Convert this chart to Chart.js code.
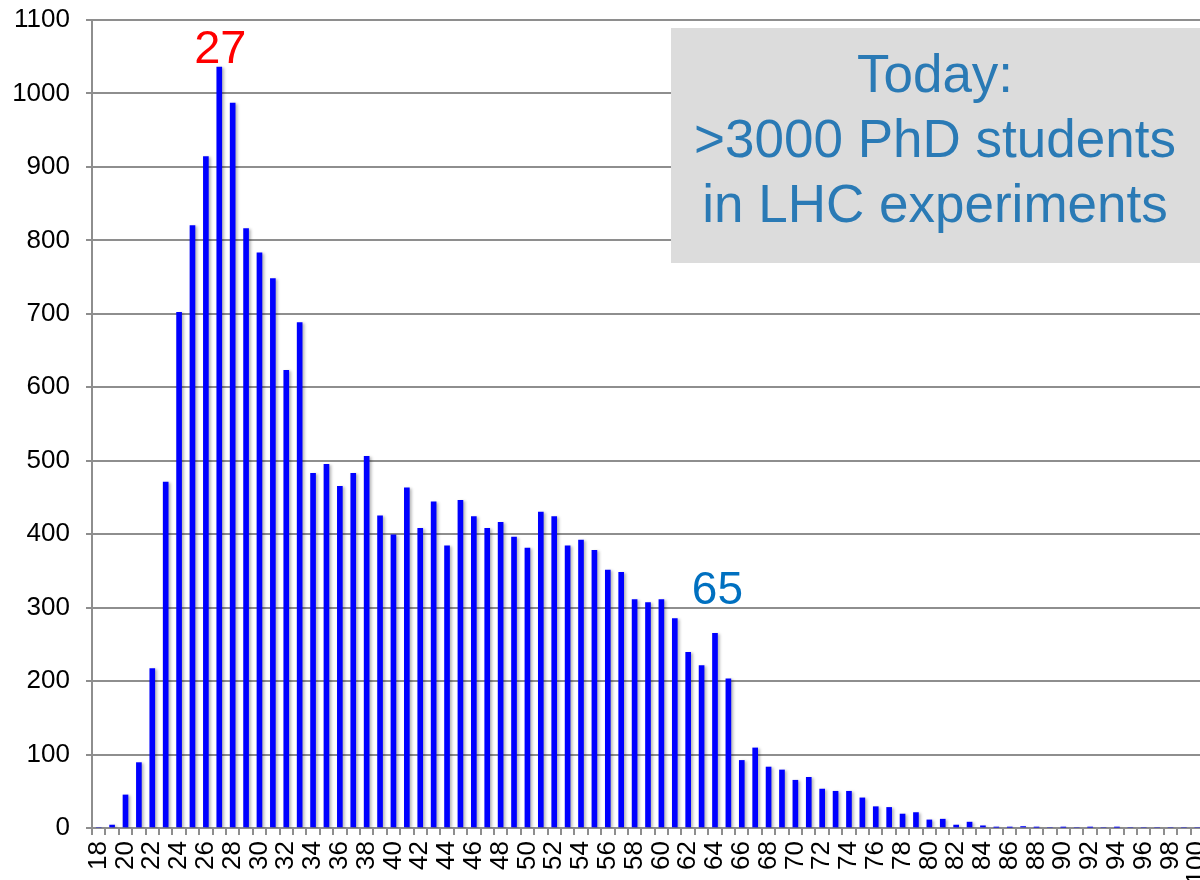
<!DOCTYPE html>
<html>
<head>
<meta charset="utf-8">
<script src="https://cdn.jsdelivr.net/npm/chart.js@4.4.1/dist/chart.umd.min.js"></script>
<style>
  html, body { margin: 0; padding: 0; background: #fff; overflow: hidden; }
  #wrap { width: 1200px; height: 880px; overflow: hidden; }
</style>
</head>
<body>
<div id="wrap"><canvas id="chart" width="1204" height="880"></canvas></div>
<script>
// age of the physicist (x) and number of people (y)
const ages = [18, 19, 20, 21, 22, 23, 24, 25, 26, 27, 28, 29, 30, 31, 32, 33, 34, 35, 36, 37,
  38, 39, 40, 41, 42, 43, 44, 45, 46, 47, 48, 49, 50, 51, 52, 53, 54, 55, 56, 57,
  58, 59, 60, 61, 62, 63, 64, 65, 66, 67, 68, 69, 70, 71, 72, 73, 74, 75, 76, 77,
  78, 79, 80, 81, 82, 83, 84, 85, 86, 87, 88, 89, 90, 91, 92, 93, 94, 95, 96, 97,
  98, 99, 100];
const counts = [0, 4, 45, 89, 217, 471, 702, 820, 914, 1036, 987, 816, 783, 748, 623, 688, 483, 495, 465, 483,
  506, 425, 399, 463, 408, 444, 384, 446, 424, 408, 416, 396, 381, 430, 424, 384, 392, 378, 351, 348,
  311, 307, 311, 285, 239, 221, 265, 203, 92, 109, 83, 79, 65, 69, 53, 50, 50, 41, 29, 28,
  19, 21, 11, 12, 4, 8, 3, 1, 1, 2, 1, 0, 1, 0, 1, 0, 1, 0, 0, 0,
  0, 0, 0];
const yTicks = [0, 100, 200, 300, 400, 500, 600, 700, 800, 900, 1000, 1100];
const boxLines = ["Today:", ">3000 PhD students", "in LHC experiments"];
const peakAge = 27;
const retireAge = 65;

const FONT = "'Liberation Sans', Arial, sans-serif";
const GRID = "#8e8e8e";

const barShadow = {
  id: "barShadow",
  beforeDatasetsDraw(chart) {
    const ctx = chart.ctx;
    ctx.save();
    ctx.shadowColor = "rgba(0,0,0,0.28)";
    ctx.shadowBlur = 3;
    ctx.shadowOffsetX = 2;
    ctx.shadowOffsetY = 1;
  },
  afterDatasetsDraw(chart) {
    chart.ctx.restore();
  }
};

const notes = {
  id: "notes",
  afterDraw(chart) {
    const ctx = chart.ctx;
    const x = chart.scales.x, y = chart.scales.y;
    const area = chart.chartArea;
    ctx.save();
    ctx.textAlign = "center";
    ctx.textBaseline = "alphabetic";

    // peak label
    let i = ages.indexOf(peakAge);
    ctx.font = "47px " + FONT;
    ctx.fillStyle = "#ff0000";
    ctx.fillText(String(peakAge), x.getPixelForValue(i) + 1, y.getPixelForValue(counts[i]) - 4);

    // retirement label
    i = ages.indexOf(retireAge);
    ctx.font = "46px " + FONT;
    ctx.fillStyle = "#0070c0";
    ctx.fillText(String(retireAge), x.getPixelForValue(i) - 11, y.getPixelForValue(counts[i]) - 75);

    // grey text box
    const bx = area.left + 579, by = area.top + 8, bw = 530, bh = 235;
    ctx.fillStyle = "#dcdcdc";
    ctx.fillRect(bx, by, bw, bh);
    ctx.font = "53px " + FONT;
    ctx.fillStyle = "#2a7ab5";
    boxLines.forEach((t, k) => ctx.fillText(t, 935, by + 64 + k * 65));
    ctx.restore();
  }
};

new Chart(document.getElementById("chart"), {
  type: "bar",
  data: {
    labels: ages,
    datasets: [{
      data: counts,
      backgroundColor: "#0000ff",
      borderWidth: 0,
      barThickness: 5
    }]
  },
  options: {
    responsive: false,
    animation: false,
    layout: { padding: { top: 20, right: 0, left: 0, bottom: 0 } },
    plugins: {
      legend: { display: false },
      tooltip: { enabled: false }
    },
    scales: {
      x: {
        offset: true,
        afterFit: (s) => { s.height = 52; s.paddingRight = 0; s.paddingLeft = 0; },
        grid: {
          offset: true,
          drawOnChartArea: false,
          drawTicks: true,
          tickLength: 7,
          color: GRID,
          lineWidth: 2
        },
        border: { color: GRID, width: 2 },
        ticks: {
          autoSkip: false,
          maxRotation: 90,
          minRotation: 90,
          padding: 6,
          color: "#000",
          font: { family: FONT, size: 26 },
          callback: (v, idx) => (ages[idx] % 2 === 0 ? String(ages[idx]) : "")
        }
      },
      y: {
        min: 0,
        max: 1100,
        afterFit: (s) => { s.width = 92; s.paddingTop = 20; s.paddingBottom = 0; },
        afterBuildTicks: (s) => { s.ticks = yTicks.map(v => ({ value: v })); },
        grid: { color: GRID, lineWidth: 2, tickLength: 6 },
        border: { color: GRID, width: 2 },
        ticks: {
          padding: 16,
          color: "#000",
          font: { family: FONT, size: 26 },
          callback: (v) => String(v)
        }
      }
    }
  },
  plugins: [barShadow, notes]
});
</script>
</body>
</html>
